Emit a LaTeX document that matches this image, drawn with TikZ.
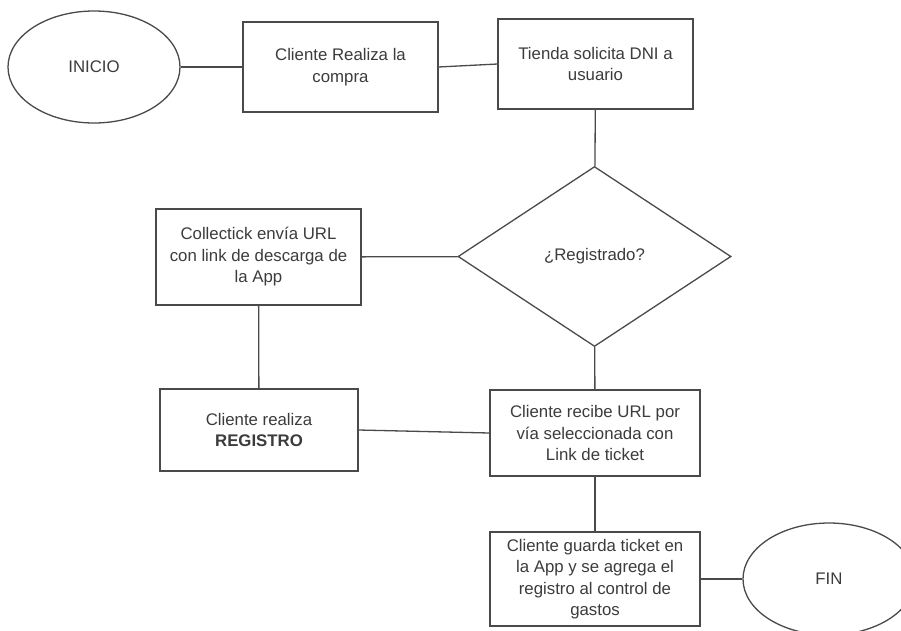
\documentclass[tikz,border=0pt]{standalone}
\usepackage{fontspec}
\setmainfont{Liberation Sans}
\usetikzlibrary{shapes.geometric}
\definecolor{linec}{HTML}{4A4A4A}
\definecolor{textc}{HTML}{3C3C3C}
\tikzset{
  base/.style={draw=linec, line width=1.3pt, text=textc, align=center, inner sep=0pt,
    font=\fontsize{16.8}{21.5}\selectfont},
  procbox/.style={base, rectangle},
  term/.style={base, ellipse, minimum width=172pt, minimum height=112pt},
  decis/.style={base, diamond, minimum width=273pt, minimum height=180pt},
  conn/.style={draw=linec, line width=1.3pt}
}
\begin{document}
\begin{tikzpicture}[x=1pt,y=-1pt]
\useasboundingbox (0,0) rectangle (901,630);
\clip (0,0) rectangle (901,630);
\fill[white] (0,0) rectangle (901,630);
\node[term] (inicio) at (94,67) {INICIO};
\node[procbox, minimum width=195pt, minimum height=90pt] (compra) at (340.5,67) {Cliente Realiza la\\compra};
\node[procbox, minimum width=195pt, minimum height=90pt] (dni) at (595.5,64) {Tienda solicita DNI a\\usuario};
\node[decis] (reg) at (594.5,256.5) {¿Registrado?};
\node[procbox, minimum width=205pt, minimum height=96pt] (url) at (258.5,257) {Collectick envía URL\\con link de descarga de\\la App};
\node[procbox, minimum width=198pt, minimum height=82pt] (registro) at (259,430) {Cliente realiza\\\textbf{REGISTRO}};
\node[procbox, minimum width=210pt, minimum height=86pt] (recibe) at (595,433) {Cliente recibe URL por\\vía seleccionada con\\Link de ticket};
\node[procbox, minimum width=210pt, minimum height=94pt] (guarda) at (595,579) {Cliente guarda ticket en\\la App y se agrega el\\registro al control de\\gastos};
\node[term] (fin) at (829,579) {FIN};
\draw[conn] (inicio) -- (compra);
\draw[conn] (compra.east) -- (dni.west);
\draw[conn] (dni) -- (reg);
\draw[conn] (reg) -- (url);
\draw[conn] (url) -- (registro);
\draw[conn] (registro.east) -- (recibe.west);
\draw[conn] (reg) -- (recibe);
\draw[conn] (recibe) -- (guarda);
\draw[conn] (guarda) -- (fin);
\end{tikzpicture}
\end{document}
